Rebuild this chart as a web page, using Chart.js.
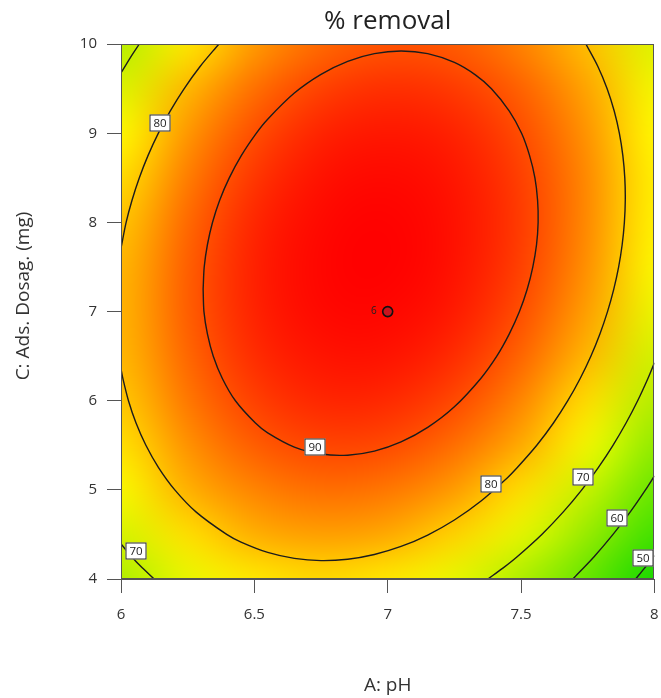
<!DOCTYPE html>
<html>
<head>
<meta charset="utf-8">
<script src="https://cdn.jsdelivr.net/npm/chart.js@4.4.1/dist/chart.umd.min.js"></script>
<style>
  html, body { margin: 0; padding: 0; background: #fff; }
  #wrap { width: 661px; height: 698px; }
</style>
</head>
<body>
<div id="wrap"><canvas id="c" width="661" height="698"></canvas></div>
<script>
// ---- Data -------------------------------------------------------------
// Grid of factor levels: A: pH (columns) and C: Ads. Dosag. in mg (rows)
const phLevels = [6, 6.25, 6.5, 6.75, 7, 7.25, 7.5, 7.75, 8];
const dosageLevels = [4, 4.5, 5, 5.5, 6, 6.5, 7, 7.5, 8, 8.5, 9, 9.5, 10];

// % removal at every grid node, one row per dosage level (4 mg first)
const removal = [
  [66.58, 72.83, 76.58, 77.83, 76.58, 72.83, 66.58, 57.83, 46.58],
  [70.85, 77.35, 81.36, 82.86, 81.87, 78.37, 72.38, 63.88, 52.88],
  [74.35, 81.11, 85.37, 87.13, 86.39, 83.15, 77.40, 69.16, 58.42],
  [77.09, 84.10, 88.62, 90.63, 90.14, 87.15, 81.67, 73.68, 63.19],
  [79.06, 86.33, 91.09, 93.36, 93.13, 90.39, 85.16, 77.43, 67.19],
  [80.26, 87.78, 92.81, 95.33, 95.35, 92.87, 87.89, 80.41, 70.43],
  [80.70, 88.48, 93.75, 96.53, 96.80, 94.58, 89.85, 82.63, 72.90],
  [80.37, 88.40, 93.93, 96.96, 97.49, 95.52, 91.05, 84.07, 74.60],
  [79.27, 87.56, 93.34, 96.62, 97.41, 95.69, 91.47, 84.76, 75.54],
  [77.41, 85.95, 91.99, 95.52, 96.56, 95.10, 91.14, 84.67, 75.71],
  [74.78, 83.57, 89.86, 93.66, 94.95, 93.74, 90.03, 83.82, 75.11],
  [71.38, 80.43, 86.98, 91.02, 92.57, 91.61, 88.16, 82.20, 73.75],
  [67.22, 76.52, 83.32, 87.62, 89.42, 88.72, 85.52, 79.82, 71.62]
];

// Contour lines as [pH, dosage] pairs
const contour90 = [
  [6.308,7.25],[6.311,7.0],[6.324,6.75],[6.346,6.5],[6.380,6.25],[6.429,6.0],[6.504,5.75],
  [6.550,5.640],[6.650,5.480],[6.750,5.402],[6.850,5.389],[6.950,5.435],[7.050,5.538],
  [7.150,5.701],[7.250,5.932],[7.349,6.25],[7.409,6.5],[7.456,6.75],[7.494,7.0],[7.523,7.25],
  [7.544,7.5],[7.558,7.75],[7.564,8.0],[7.562,8.25],[7.552,8.5],[7.532,8.75],[7.502,9.0],
  [7.456,9.25],[7.389,9.5],[7.330,9.653],[7.250,9.795],[7.150,9.894],[7.050,9.924],
  [6.950,9.894],[6.850,9.808],[6.750,9.662],[6.650,9.452],[6.550,9.159],[6.507,9.0],
  [6.451,8.75],[6.406,8.5],[6.370,8.25],[6.343,8.0],[6.324,7.75],[6.312,7.5],[6.308,7.25]
];
const contour80Upper = [
  [6.3665,10],[6.2965,9.75],[6.2364,9.5],[6.1844,9.25],[6.1397,9.0],[6.1012,8.75],
  [6.0685,8.5],[6.0413,8.25],[6.0192,8.0],[6.0,7.711]
];
const contour80Lower = [
  [6.0,6.358],[6.007,6.25],[6.028,6.0],[6.0564,5.75],[6.0933,5.5],[6.1407,5.25],[6.2017,5.0],
  [6.2821,4.75],[6.3962,4.5],[6.45,4.414],[6.55,4.298],[6.65,4.231],[6.75,4.206],[6.85,4.222],
  [6.95,4.275],[7.05,4.365],[7.15,4.493],[7.25,4.662],[7.35,4.875],[7.45,5.139],[7.486,5.25],
  [7.559,5.5],[7.6215,5.75],[7.6753,6.0],[7.7217,6.25],[7.7617,6.5],[7.7957,6.75],[7.8242,7.0],
  [7.8475,7.25],[7.8658,7.5],[7.8791,7.75],[7.8874,8.0],[7.8908,8.25],[7.889,8.5],[7.8817,8.75],
  [7.8687,9.0],[7.8493,9.25],[7.8228,9.5],[7.7881,9.75],[7.7435,10]
];
const contour70Lower = [[6.0,4.393],[6.040,4.25],[6.0796,4.125],[6.1243,4.0]];
const contour70Upper = [[6.0681,10],[6.0352,9.85],[6.0,9.677]];
const contour70Right = [
  [7.3757,4.0],[7.4332,4.125],[7.4854,4.25],[7.5778,4.5],[7.6576,4.75],[7.7277,5.0],
  [7.7896,5.25],[7.8447,5.5],[7.8937,5.75],[7.9372,6.0],[7.9757,6.25],[8.0,6.426]
];
const contour60 = [[7.6942,4.0],[7.7738,4.25],[7.8449,4.5],[7.9089,4.75],[7.9666,5.0],[8.0,5.157]];
const contour50 = [[7.9296,4.0],[7.9639,4.125],[8.0,4.264]];

const contourLines = [
  { level: 90, points: contour90 },
  { level: 80, points: contour80Upper },
  { level: 80, points: contour80Lower },
  { level: 70, points: contour70Lower },
  { level: 70, points: contour70Upper },
  { level: 70, points: contour70Right },
  { level: 60, points: contour60 },
  { level: 50, points: contour50 }
];

// Where each contour value is written (pH, dosage)
const contourLabels = [
  { level: 80, ph: 6.147, dosage: 9.12 },
  { level: 90, ph: 6.726, dosage: 5.476 },
  { level: 80, ph: 7.388, dosage: 5.067 },
  { level: 70, ph: 7.733, dosage: 5.14 },
  { level: 70, ph: 6.058, dosage: 4.31 },
  { level: 60, ph: 7.860, dosage: 4.686 },
  { level: 50, ph: 7.957, dosage: 4.238 }
];

// Design points (centre point replicated 6 times)
const designPH = [7];
const designDosage = [7];
const designRuns = [6];

// Axis ticks
const phTicks = [6, 6.5, 7, 7.5, 8];
const phTickLabels = ['6', '6.5', '7', '7.5', '8'];
const dosageTicks = [4, 5, 6, 7, 8, 9, 10];
const dosageTickLabels = ['4', '5', '6', '7', '8', '9', '10'];

// ---- Styling ----------------------------------------------------------
const FONT = "'Open Sans', 'Noto Sans', 'DejaVu Sans', sans-serif";
const TEXT = '#333333';
const AXIS = '#555555';

// Green -> yellow -> red colour ramp for % removal
const ramp = [
  [46, [20, 215, 0]], [50, [45, 222, 0]], [55, [80, 228, 0]], [60, [115, 232, 0]],
  [65, [160, 236, 0]], [70, [205, 243, 0]], [75, [255, 250, 0]], [78, [255, 215, 0]],
  [80, [255, 188, 0]], [85, [255, 135, 0]], [90, [255, 75, 0]], [94, [255, 30, 0]],
  [97.5, [255, 0, 0]]
];
function rampColor(v) {
  if (v <= ramp[0][0]) return ramp[0][1];
  for (let i = 1; i < ramp.length; i++) {
    if (v <= ramp[i][0]) {
      const [v0, c0] = ramp[i - 1], [v1, c1] = ramp[i];
      const t = (v - v0) / (v1 - v0);
      return c0.map((c, k) => Math.round(c + (c1[k] - c) * t));
    }
  }
  return ramp[ramp.length - 1][1];
}

// Response surface painted under the contour lines
const surfacePlugin = {
  id: 'responseSurface',
  beforeDatasetsDraw(chart) {
    const { ctx, scales: { x, y } } = chart;
    const nx = phLevels.length, ny = dosageLevels.length;
    const tile = document.createElement('canvas');
    tile.width = nx; tile.height = ny;
    const tctx = tile.getContext('2d');
    const img = tctx.createImageData(nx, ny);
    for (let j = 0; j < ny; j++) {
      const row = removal[ny - 1 - j];
      for (let i = 0; i < nx; i++) {
        const c = rampColor(row[i]);
        const k = 4 * (j * nx + i);
        img.data[k] = c[0]; img.data[k + 1] = c[1]; img.data[k + 2] = c[2]; img.data[k + 3] = 255;
      }
    }
    tctx.putImageData(img, 0, 0);
    const x0 = x.getPixelForValue(phLevels[0]);
    const x1 = x.getPixelForValue(phLevels[nx - 1]);
    const y0 = y.getPixelForValue(dosageLevels[ny - 1]);
    const y1 = y.getPixelForValue(dosageLevels[0]);
    ctx.save();
    ctx.imageSmoothingEnabled = true;
    ctx.imageSmoothingQuality = 'high';
    ctx.drawImage(tile, 0.5, 0.5, nx - 1, ny - 1, x0, y0, x1 - x0, y1 - y0);
    ctx.restore();
  }
};

// Frame, contour value boxes, run count and vertical axis title
const overlayPlugin = {
  id: 'overlay',
  afterDatasetsDraw(chart) {
    const { ctx, chartArea: a, scales: { x, y } } = chart;
    ctx.save();
    ctx.strokeStyle = AXIS;
    ctx.lineWidth = 1;
    ctx.strokeRect(Math.round(a.left) + 0.5, Math.round(a.top) + 0.5,
                   Math.round(a.right - a.left) - 1, Math.round(a.bottom - a.top) - 1);

    ctx.font = '11.5px ' + FONT;
    ctx.textAlign = 'center';
    ctx.textBaseline = 'middle';
    contourLabels.forEach(l => {
      const px = Math.round(x.getPixelForValue(l.ph));
      const py = Math.round(y.getPixelForValue(l.dosage));
      const w = 21, h = 17;
      ctx.fillStyle = '#ffffff';
      ctx.fillRect(px - w / 2, py - h / 2, w, h);
      ctx.strokeStyle = '#2a2a2a';
      ctx.strokeRect(px - w / 2 + 0.5, py - h / 2 + 0.5, w - 1, h - 1);
      ctx.fillStyle = '#222222';
      ctx.fillText(String(l.level), px, py + 0.5);
    });

    ctx.font = '10px ' + FONT;
    ctx.fillStyle = '#222222';
    ctx.textAlign = 'right';
    designPH.forEach((p, i) => {
      const px = x.getPixelForValue(p), py = y.getPixelForValue(designDosage[i]);
      ctx.fillText(String(designRuns[i]), px - 11, py);
    });
    ctx.restore();
  },
  afterDraw(chart) {
    const { ctx } = chart;
    ctx.save();
    ctx.translate(24, 296);
    ctx.rotate(-Math.PI / 2);
    ctx.font = '19px ' + FONT;
    ctx.fillStyle = TEXT;
    ctx.textAlign = 'center';
    ctx.textBaseline = 'middle';
    ctx.fillText('C: Ads. Dosag. (mg)', 0, 0);
    ctx.restore();
  }
};

const lineDatasets = contourLines.map(c => ({
  label: String(c.level),
  data: c.points.map(([ph, d]) => ({ x: ph, y: d })),
  showLine: true,
  borderColor: '#1c1c1c',
  borderWidth: 1.4,
  pointRadius: 0,
  tension: 0.3,
  fill: false,
  order: 1
}));

const designDataset = {
  label: 'Design points',
  data: designPH.map((p, i) => ({ x: p, y: designDosage[i] })),
  showLine: false,
  pointRadius: 5,
  pointBackgroundColor: '#c8141e',
  pointBorderColor: '#111111',
  pointBorderWidth: 1.6,
  order: 0
};

new Chart(document.getElementById('c'), {
  type: 'scatter',
  data: { datasets: [designDataset, ...lineDatasets] },
  options: {
    responsive: false,
    animation: false,
    devicePixelRatio: 1,
    layout: { padding: { left: 0, right: 0, top: 0, bottom: 0 } },
    plugins: {
      legend: { display: false },
      tooltip: { enabled: false },
      title: {
        display: true,
        text: '% removal',
        fullSize: false,
        color: '#222222',
        font: { family: FONT, size: 26, weight: 'normal', lineHeight: 1.2 },
        padding: { top: 6, bottom: 7 }
      }
    },
    scales: {
      x: {
        type: 'linear',
        position: 'bottom',
        min: phTicks[0],
        max: phTicks[phTicks.length - 1],
        afterBuildTicks: s => { s.ticks = phTicks.map(v => ({ value: v })); },
        afterFit: s => { s.height = 119; s.paddingLeft = 0; s.paddingRight = 0; },
        ticks: {
          callback: (v, i) => phTickLabels[i],
          color: TEXT,
          font: { family: FONT, size: 15 },
          padding: 13,
          maxRotation: 0
        },
        grid: { drawOnChartArea: false, drawTicks: true, tickLength: 14, color: AXIS, lineWidth: 1 },
        border: { display: true, color: AXIS },
        title: {
          display: true,
          text: 'A: pH',
          color: TEXT,
          font: { family: FONT, size: 19, lineHeight: 1.2 },
          padding: { top: 0, bottom: 1 }
        }
      },
      y: {
        type: 'linear',
        position: 'left',
        min: dosageTicks[0],
        max: dosageTicks[dosageTicks.length - 1],
        afterBuildTicks: s => { s.ticks = dosageTicks.map(v => ({ value: v })); },
        afterFit: s => { s.width = 121; s.paddingTop = 0; s.paddingBottom = 0; },
        ticks: {
          callback: (v, i) => dosageTickLabels[i],
          color: TEXT,
          font: { family: FONT, size: 15 },
          padding: 10
        },
        grid: { drawOnChartArea: false, drawTicks: true, tickLength: 14, color: AXIS, lineWidth: 1 },
        border: { display: true, color: AXIS }
      }
    }
  },
  plugins: [surfacePlugin, overlayPlugin]
});
</script>
</body>
</html>
